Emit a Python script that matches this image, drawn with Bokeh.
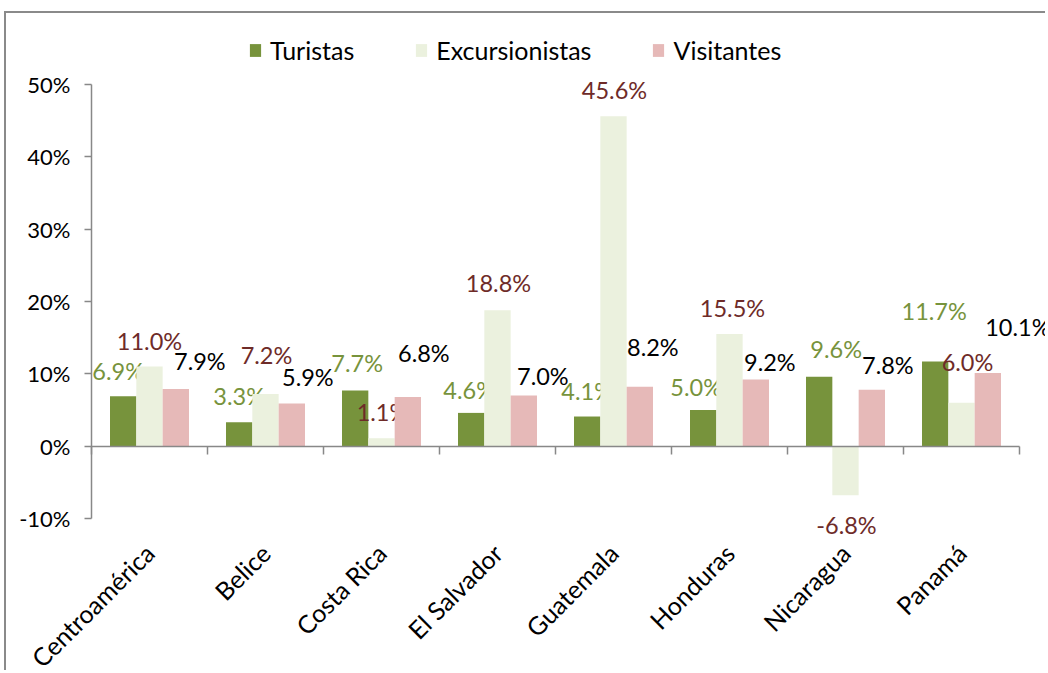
import math
import numpy as np
from bokeh.plotting import figure
from bokeh.models import (ColumnDataSource, Range1d, LinearAxis, FixedTicker,
                          PrintfTickFormatter, Legend, LegendItem)
from bokeh.transform import dodge
from bokeh.core.properties import value
from bokeh.embed import file_html
from bokeh.resources import INLINE

# ---------------- data ----------------
categories = ["Centroamérica", "Belice", "Costa Rica", "El Salvador",
              "Guatemala", "Honduras", "Nicaragua", "Panamá"]
turistas = [6.9, 3.3, 7.7, 4.6, 4.1, 5.0, 9.6, 11.7]
excursionistas = [11.0, 7.2, 1.1, 18.8, 45.6, 15.5, -6.8, 6.0]
visitantes = [7.9, 5.9, 6.8, 7.0, 8.2, 9.2, 7.8, 10.1]
series_names = ["Turistas", "Excursionistas", "Visitantes"]
y_ticks = [-10, 0, 10, 20, 30, 40, 50]

# ---------------- style ----------------
FONT = "Lato"
bar_colors = ["#77933C", "#EBF1DE", "#E6B9B8"]
label_colors = ["#77933C", "#6E2B28", "#000000"]
axis_color = "#888888"
BAR_W = 0.227
offsets = [-BAR_W, 0.0, BAR_W]

# label nudges in pixels (dx right, dy down) relative to bar end
label_dx = [[-5, 0, 2, -2, 0, -7, 17, -1],
            [0, 1, 1, 1, 1, 3, 1, 6],
            [24, 16, 16, 19, 13, 14, 16, 30]]
label_dy = [[-25, -26, -27, -23, -26, -23, -28, -51],
            [-26, -39, -26, -27, -26, -26, 30, -41],
            [-28, -26, -44, -20, -40, -18, -25, -46]]

n = len(categories)
xc = np.arange(n) + 0.5

W, H = 1041, 659
PX_X = 116.0       # pixels per category
PX_Y = 434 / 60.0  # pixels per percentage point
LEFT = 85          # pixel position of the value axis inside the plot area
Y0_TOP = 71        # pixel offset of 50% from the top of the plot area
y_top = 50 + Y0_TOP / PX_Y
y_bot = y_top - H / PX_Y

p = figure(width=W, height=H,
           x_range=Range1d(-LEFT / PX_X, (W - LEFT) / PX_X),
           y_range=Range1d(y_bot, y_top),
           output_backend="svg", toolbar_location=None,
           x_axis_location=None,
           min_border_left=0, min_border_right=0,
           min_border_top=0, min_border_bottom=0,
           outline_line_color=None,
           margin=(11, 0, 0, 4),
           styles={"border-left": "2px solid #8a8a8a",
                   "border-top": "2px solid #8a8a8a"})
p.grid.visible = False

series_values = [turistas, excursionistas, visitantes]
renderers = []
for k, vals in enumerate(series_values):
    src = ColumnDataSource(dict(
        x=xc, top=vals,
        text=[f"{v:.1f}%" for v in vals],
        dx=label_dx[k], dy=label_dy[k]))
    r = p.vbar(x=dodge("x", offsets[k], range=p.x_range), top="top", bottom=0,
               width=BAR_W, source=src, fill_color=bar_colors[k], line_color=None)
    renderers.append(r)
    p.text(x=dodge("x", offsets[k], range=p.x_range), y="top", text="text",
           x_offset="dx", y_offset="dy", source=src,
           text_align="center", text_baseline="middle",
           text_font=value(FONT), text_font_size="23.5px", text_color=label_colors[k])

# y axis, drawn at x = 0
ya = p.yaxis[0]
ya.fixed_location = 0
ya.ticker = FixedTicker(ticks=y_ticks)
ya.formatter = PrintfTickFormatter(format="%d%%")
ya.bounds = (min(y_ticks), max(y_ticks))
ya.axis_line_color = axis_color
ya.axis_line_width = 1.5
ya.major_tick_line_color = axis_color
ya.major_tick_line_width = 1.5
ya.major_tick_out = 7
ya.major_tick_in = 0
ya.minor_tick_line_color = None
ya.major_label_text_font = FONT
ya.major_label_text_font_size = "22px"
ya.major_label_text_color = "#000000"
ya.major_label_standoff = 14

# zero axis with category boundary ticks
bounds_ticks = list(range(n + 1))
za = LinearAxis(fixed_location=0,
                ticker=FixedTicker(ticks=bounds_ticks),
                major_label_overrides={t: "" for t in bounds_ticks},
                bounds=(0, n))
za.axis_line_color = axis_color
za.axis_line_width = 1.5
za.major_tick_line_color = axis_color
za.major_tick_line_width = 1.5
za.major_tick_out = 8
za.major_tick_in = 0
za.minor_tick_line_color = None
za.major_label_standoff = 0
p.add_layout(za, "below")

# category labels axis, drawn below the -10% level
la = LinearAxis(fixed_location=min(y_ticks),
                ticker=FixedTicker(ticks=list(xc)),
                major_label_overrides={float(x): c for x, c in zip(xc, categories)})
la.axis_line_color = None
la.major_tick_line_color = None
la.minor_tick_line_color = None
la.major_tick_out = 0
la.major_tick_in = 0
la.major_label_orientation = math.pi / 4
la.major_label_standoff = 30
la.major_label_text_font = FONT
la.major_label_text_font_size = "25px"
la.major_label_text_color = "#000000"
p.add_layout(la, "below")

legend = Legend(items=[LegendItem(label=s, renderers=[r]) for s, r in zip(series_names, renderers)],
                location=(242, H - 52), orientation="horizontal",
                glyph_width=14, glyph_height=16, label_standoff=8, spacing=60,
                padding=0, margin=0, border_line_color=None,
                background_fill_alpha=0,
                label_text_font=FONT, label_text_font_size="25px",
                label_text_color="#000000")
p.add_layout(legend)

open("out.html", "w").write(file_html(p, INLINE))
